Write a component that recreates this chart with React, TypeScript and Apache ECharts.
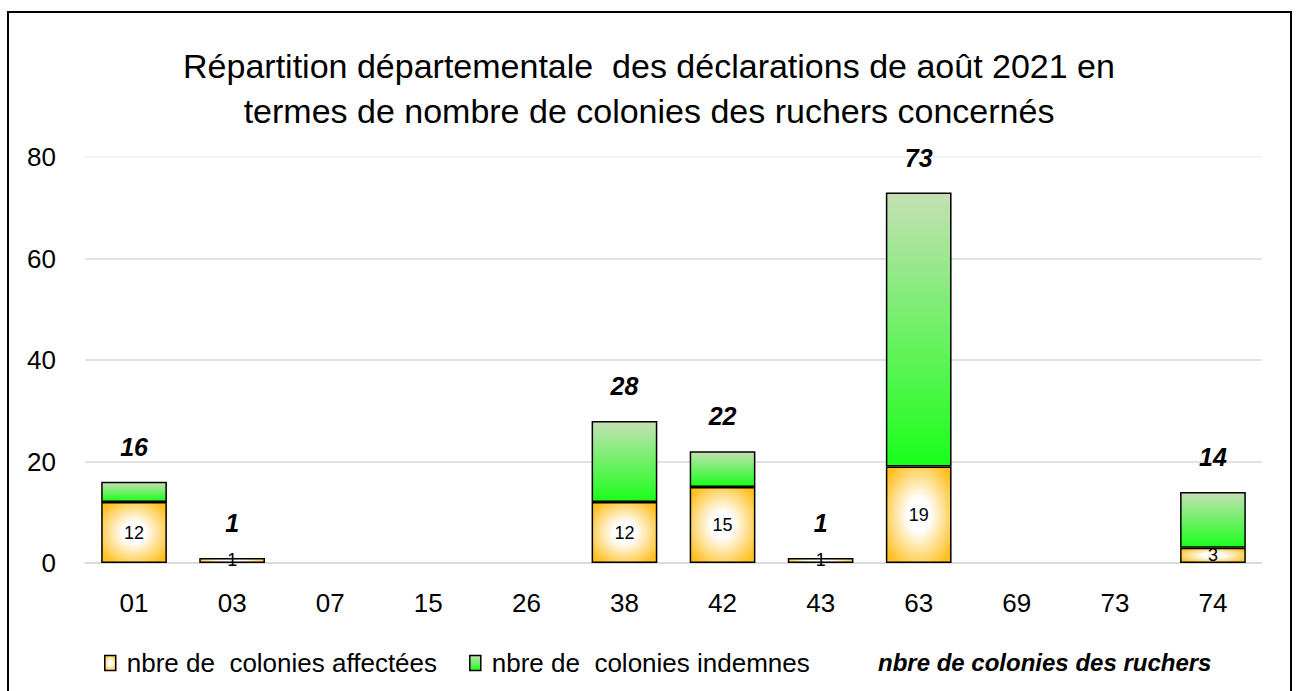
import React, { useEffect, useRef } from "react";
import * as echarts from "echarts";

const categories = ["01", "03", "07", "15", "26", "38", "42", "43", "63", "69", "73", "74"];
const affectees = [12, 1, 0, 0, 0, 12, 15, 1, 19, 0, 0, 3];
const indemnes = [4, 0, 0, 0, 0, 16, 7, 0, 54, 0, 0, 11];
const totaux: (number | null)[] = [16, 1, null, null, null, 28, 22, 1, 73, null, null, 14];
const yTicks = { min: 0, max: 80, interval: 20 };
const titleText = "Répartition départementale  des déclarations de août 2021 en\ntermes de nombre de colonies des ruchers concernés";
const seriesNames = ["nbre de  colonies affectées", "nbre de  colonies indemnes", "nbre de colonies des ruchers"];

const FONT = "Liberation Sans";

export default function App() {
  const ref = useRef<HTMLDivElement>(null);
  useEffect(() => {
    document.body.style.margin = "0";
    const chart = echarts.init(ref.current!, null, { renderer: "svg" });
    const orange = new echarts.graphic.RadialGradient(0.5, 0.5, 0.62, [
      { offset: 0, color: "#ffffff" },
      { offset: 0.28, color: "#ffffff" },
      { offset: 1, color: "#ffbf1f" },
    ]);
    const green = new echarts.graphic.LinearGradient(0, 0, 0, 1, [
      { offset: 0, color: "#c5e0b4" },
      { offset: 1, color: "#1aff1a" },
    ]);
    chart.setOption({
      animation: false,
      title: {
        text: titleText,
        left: "center",
        top: 38,
        textStyle: { fontFamily: FONT, fontSize: 34, fontWeight: "normal", color: "#000", lineHeight: 45 },
      },
      graphic: [
        {
          type: "rect",
          shape: { x: 8, y: 12, width: 1283, height: 700 },
          style: { fill: "none", stroke: "#000", lineWidth: 2 },
          silent: true,
        },
      ],
      grid: { left: 85, right: 36, top: 157, bottom: 128 },
      legend: [
        {
          top: 645,
          left: 99,
          icon: "rect",
          itemWidth: 11,
          itemHeight: 15,
          itemGap: 32,
          textStyle: { fontFamily: FONT, fontSize: 26, color: "#000", padding: [0, 0, 0, 6] },
          data: [
            { name: seriesNames[0], itemStyle: { color: orange, borderColor: "#000", borderWidth: 1.5 } },
            { name: seriesNames[1], itemStyle: { color: green, borderColor: "#000", borderWidth: 1.5 } },
          ],
        },
        {
          top: 645,
          left: 858,
          itemWidth: 10,
          itemHeight: 15,
          textStyle: { fontFamily: FONT, fontSize: 24, color: "#000", fontWeight: "bold", fontStyle: "italic" },
          data: [{ name: seriesNames[2], icon: "none" }],
        },
      ],
      xAxis: {
        type: "category",
        data: categories,
        axisLine: { show: true, lineStyle: { color: "#d9d9d9", width: 1.5 } },
        axisTick: { show: false },
        axisLabel: { fontFamily: FONT, fontSize: 26, color: "#000", margin: 27 },
      },
      yAxis: {
        type: "value",
        min: yTicks.min,
        max: yTicks.max,
        interval: yTicks.interval,
        axisLine: { show: false },
        axisTick: { show: false },
        splitLine: { lineStyle: { color: ["#d9d9d9", "#d9d9d9", "#d9d9d9", "#d9d9d9", "#f0f0f0"], width: 1.5 } },
        axisLabel: { fontFamily: FONT, fontSize: 26, color: "#000", margin: 29 },
      },
      series: [
        {
          name: seriesNames[0],
          type: "bar",
          stack: "t",
          barWidth: "67%",
          data: affectees.map((v) => (v === 0 ? null : v)),
          itemStyle: { color: orange, borderColor: "#000", borderWidth: 1.5 },
          label: { show: true, position: "inside", fontFamily: FONT, fontSize: 18, color: "#000" },
        },
        {
          name: seriesNames[1],
          type: "bar",
          stack: "t",
          data: indemnes.map((v) => (v === 0 ? null : v)),
          itemStyle: { color: green, borderColor: "#000", borderWidth: 1.5 },
        },
        {
          name: seriesNames[2],
          type: "line",
          data: totaux,
          symbol: "circle",
          symbolSize: 1,
          showSymbol: true,
          itemStyle: { color: "transparent" },
          lineStyle: { opacity: 0 },
          label: {
            show: true,
            position: "top",
            distance: 22,
            fontFamily: FONT,
            fontSize: 25,
            fontWeight: "bold",
            fontStyle: "italic",
            color: "#000",
          },
        },
      ],
    });
    return () => chart.dispose();
  }, []);
  return <div ref={ref} style={{ position: "absolute", left: 0, top: 0, width: 1298, height: 691 }} />;
}
